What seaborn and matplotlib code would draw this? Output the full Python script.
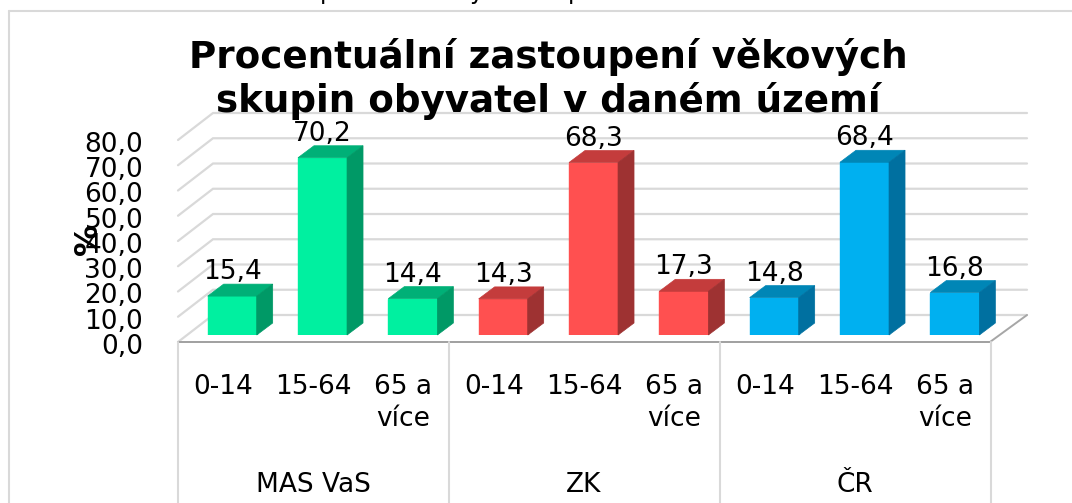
import matplotlib
matplotlib.use('Agg')
import matplotlib.pyplot as plt
import matplotlib.transforms as mtrans
from matplotlib.lines import Line2D
from matplotlib.patches import Polygon
from matplotlib.colors import to_hex
import seaborn as sns

regions = ['MAS VaS', 'MAS VaS', 'MAS VaS', 'ZK', 'ZK', 'ZK', 'ČR', 'ČR', 'ČR']
ages = ['0-14', '15-64', '65 a\nvíce'] * 3
values = [15.4, 70.2, 14.4, 14.3, 68.3, 17.3, 14.8, 68.4, 16.8]
yticks = [0, 10, 20, 30, 40, 50, 60, 70, 80]
front_colors = {'MAS VaS': '#00F0A0', 'ZK': '#FF5050', 'ČR': '#00B0F0'}
top_colors = {'#00f0a0': '#00B077', '#ff5050': '#C43C3C', '#00b0f0': '#0086B6'}
side_colors = {'#00f0a0': '#009966', '#ff5050': '#9E3232', '#00b0f0': '#0070A0'}

W, H = 1072, 503
sns.set_style('white')
plt.rcParams['font.family'] = 'DejaVu Sans'
plt.rcParams['text.color'] = 'black'
fig = plt.figure(figsize=(W / 100, H / 100), dpi=100)

# axes = plane where the bars stand, everything else is pixel offsets from it
left, right, base, top = 187, 1000, 335, 133
ax = fig.add_axes([left / W, 1 - base / H, (right - left) / W, (base - top) / H])
keys = [str(i) for i in range(len(values))]
sns.barplot(x=keys, y=values, hue=regions, palette=front_colors, dodge=False,
            legend=False, width=0.543, saturation=1, ax=ax, zorder=3)
ax.set_xlim(-0.5, 8.5)
ax.set_ylim(0, 80)
sns.despine(ax=ax, left=True, bottom=True)
ax.patch.set_alpha(0)
px = 9 / (right - left)  # one pixel in data units
py = 80 / (base - top)

# back wall and side wall grid
grid = '#D9D9D9'
x0 = -0.5 - 9 * px
x1 = -0.5 + 26 * px
x2 = 8.5 + 27 * px
for t in yticks:
    ax.plot([x0, x1, x2], [t - 7 * py, t + 20 * py, t + 20 * py], color=grid, lw=1.6,
            clip_on=False, zorder=1, solid_joinstyle='miter')

# floor front edge, right side edge, group separators
xf = x0 + 812 * px
ax.plot([x0, xf], [-7 * py, -7 * py], color='#A0A0A0', lw=1.4, clip_on=False, zorder=2)
ax.plot([xf, x2], [-7 * py, 20 * py], color='#A6A6A6', lw=1.4, clip_on=False, zorder=2)
for i in range(4):
    xs = x0 + i * 271 * px
    ax.plot([xs, xs], [-7 * py, -(H - base + 2) * py], color=grid, lw=1.5, clip_on=False, zorder=2)

# fake 3d faces on each bar
dx = 16 * px
dy = 12 * py
for p in ax.patches:
    h = p.get_height()
    if not h == h or p.get_width() == 0:
        continue
    a = p.get_x()
    b = a + p.get_width()
    c = to_hex(p.get_facecolor())
    p.set_edgecolor(c)
    ax.add_patch(Polygon([(a, h), (b, h), (b + dx, h + dy), (a + dx, h + dy)], closed=True,
                         fc=top_colors[c], ec=top_colors[c], lw=0.5, clip_on=False, zorder=3))
    ax.add_patch(Polygon([(b, 0), (b, h), (b + dx, h + dy), (b + dx, dy)], closed=True,
                         fc=side_colors[c], ec=side_colors[c], lw=0.5, clip_on=False, zorder=3))

# value labels
for i, v in enumerate(values):
    ax.annotate(str(v).replace('.', ','), (i, v), xytext=(0, 17 * 0.72), textcoords='offset points',
                ha='center', va='baseline', fontsize=19, color='black', zorder=5,
                annotation_clip=False)

# ticks sit on the front edge, not on the bar plane
ax.set_xlabel('')
ax.set_ylabel('')
ax.set_yticks(yticks)
ax.set_yticklabels(['%d,0' % t for t in yticks], fontsize=19, color='black', va='center_baseline')
ax.set_xticks(range(len(ages)))
ax.set_xticklabels(ages, fontsize=19, color='black', linespacing=1.3)
ax.tick_params(axis='y', length=0, pad=31.5)
ax.tick_params(axis='x', length=0, pad=28)
shift_y = mtrans.ScaledTranslation(0, -9 / 100, fig.dpi_scale_trans)
shift_x = mtrans.ScaledTranslation(-9.5 / 100, 0, fig.dpi_scale_trans)
for lab in ax.get_yticklabels():
    lab.set_transform(lab.get_transform() + shift_y)
for lab in ax.get_xticklabels():
    lab.set_transform(lab.get_transform() + shift_x)

# group names
for name, cx in zip(['MAS VaS', 'ZK', 'ČR'], [1, 4, 7]):
    ax.text(cx - 9.5 * px, -(482 - base) * py, name, ha='center', va='center_baseline',
            fontsize=19, color='black', clip_on=False)

fig.text(88 / W, 1 - 239 / H, '%', rotation=90, ha='center', va='center', fontsize=23, fontweight='bold')
fig.text(548 / W, 1 - 79 / H, 'Procentuální zastoupení věkových\nskupin obyvatel v daném území',
         ha='center', va='center', fontsize=26.8, fontweight='bold', zorder=6, linespacing=1.17)

# chart frame, and the caption above it cut off by the image edge
fig.add_artist(Line2D([9 / W, 9 / W], [0, 1 - 11 / H], color=grid, lw=1.5))
fig.add_artist(Line2D([9 / W, 1], [1 - 11 / H, 1 - 11 / H], color=grid, lw=1.5))
for ch, x in zip('pyp', [327, 476, 575]):
    fig.text(x / W, 1 + 1 / H, ch, ha='center', va='baseline', fontsize=17)

fig.savefig('out.png', dpi=100)
